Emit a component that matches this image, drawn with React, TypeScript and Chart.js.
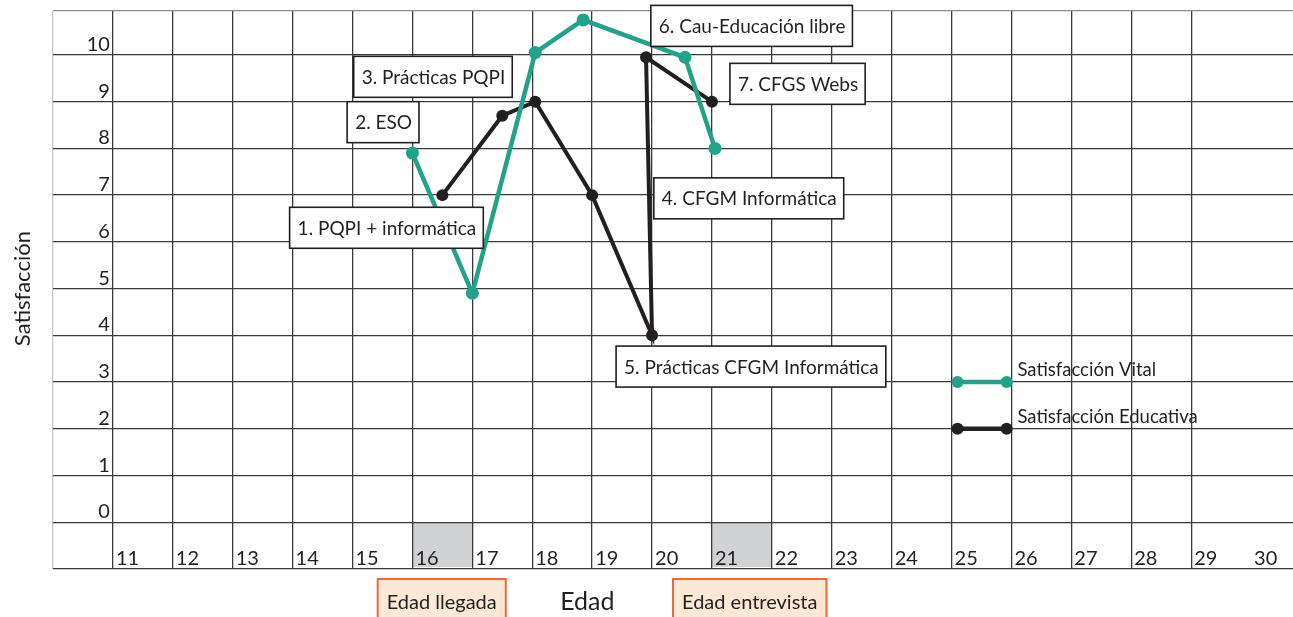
import React, { useEffect, useRef } from "react";
import { Chart, registerables } from "chart.js";

Chart.register(...registerables);

// ---- data ----
const xTickLabels = ["11", "12", "13", "14", "15", "16", "17", "18", "19", "20", "21", "22", "23", "24", "25", "26", "27", "28", "29", "30"];
const yTickLabels = ["0", "1", "2", "3", "4", "5", "6", "7", "8", "9", "10"];

const seriesNames = ["Satisfacción Vital", "Satisfacción Educativa"];

const vitalAges = [16, 17, 18.05, 18.85, 20.55, 21.05];
const vitalValues = [7.9, 4.9, 10.05, 10.75, 9.95, 8.0];

const eduAges = [16.5, 17.5, 18.05, 19, 20, 19.9, 21];
const eduValues = [7, 8.7, 9, 7, 4, 9.95, 9];

const eventLabels = [
  "1. PQPI + informática",
  "2. ESO",
  "3. Prácticas PQPI",
  "4. CFGM Informática",
  "5. Prácticas CFGM Informática",
  "6. Cau-Educación libre",
  "7. CFGS Webs",
];

const highlightAges = [16, 21];
const highlightLabels = ["Edad llegada", "Edad entrevista"];

const xTitle = "Edad";
const yTitle = "Satisfacción";

// ---- layout (positions in data units, kept apart from the data) ----
const eventBoxAnchors = [
  { x: 13.95, y: 6.74 },
  { x: 14.91, y: 9.0 },
  { x: 15.02, y: 9.97 },
  { x: 20.03, y: 7.37 },
  { x: 19.4, y: 3.77 },
  { x: 19.98, y: 11.06 },
  { x: 21.3, y: 9.82 },
];
const highlightBoxX = [15.42, 20.35];
const legendX = [25.1, 25.92];
const legendY = [3, 2];
const legendTextX = 26.1;

const GREEN = "#23a28a";
const BLACK = "#231f20";
const FONT = "Lato, 'Noto Sans', sans-serif";

const overlayPlugin = {
  id: "overlay",
  beforeDraw(chart: any) {
    const { ctx, scales } = chart;
    const x = scales.x;
    const y = scales.y;
    ctx.save();
    ctx.fillStyle = "#d1d2d4";
    highlightAges.forEach((a) => {
      const x0 = x.getPixelForValue(a);
      const x1 = x.getPixelForValue(a + 1);
      const y0 = y.getPixelForValue(0);
      const y1 = y.getPixelForValue(-1) - 2;
      ctx.fillRect(x0, y0, x1 - x0, y1 - y0);
    });
    ctx.restore();
  },
  afterDraw(chart: any) {
    const { ctx, scales, chartArea } = chart;
    const x = scales.x;
    const y = scales.y;
    ctx.save();
    ctx.fillStyle = BLACK;
    ctx.textBaseline = "alphabetic";

    // y tick labels
    ctx.font = `20px ${FONT}`;
    ctx.textAlign = "right";
    yTickLabels.forEach((t) => {
      const v = Number(t);
      ctx.fillText(t, x.getPixelForValue(11) - 3, y.getPixelForValue(v) - 4);
    });
    // x tick labels
    ctx.textAlign = "left";
    xTickLabels.forEach((t) => {
      const v = Number(t);
      ctx.fillText(t, x.getPixelForValue(v) + 3, y.getPixelForValue(-1) - 4);
    });

    // event boxes
    ctx.font = `19px ${FONT}`;
    eventLabels.forEach((label, i) => {
      const a = eventBoxAnchors[i];
      const bx = x.getPixelForValue(a.x);
      const by = y.getPixelForValue(a.y);
      const w = ctx.measureText(label).width + 15;
      const h = 41;
      ctx.fillStyle = "#ffffff";
      ctx.fillRect(bx, by, w, h);
      ctx.lineWidth = 1.6;
      ctx.strokeStyle = BLACK;
      ctx.strokeRect(bx, by, w, h);
      ctx.fillStyle = BLACK;
      ctx.textAlign = "left";
      ctx.textBaseline = "middle";
      ctx.fillText(label, bx + 8, by + h / 2 + 1);
    });

    // legend
    const legendColors = [GREEN, BLACK];
    seriesNames.forEach((name, i) => {
      const py = y.getPixelForValue(legendY[i]);
      const x0 = x.getPixelForValue(legendX[0]);
      const x1 = x.getPixelForValue(legendX[1]);
      ctx.strokeStyle = legendColors[i];
      ctx.lineWidth = 4.5;
      ctx.beginPath();
      ctx.moveTo(x0, py);
      ctx.lineTo(x1, py);
      ctx.stroke();
      ctx.fillStyle = legendColors[i];
      [x0, x1].forEach((px) => {
        ctx.beginPath();
        ctx.arc(px, py, 6, 0, Math.PI * 2);
        ctx.fill();
      });
      ctx.fillStyle = BLACK;
      ctx.font = `18.5px ${FONT}`;
      ctx.textAlign = "left";
      ctx.textBaseline = "alphabetic";
      ctx.fillText(name, x.getPixelForValue(legendTextX), py - 6);
    });

    // highlight boxes below axis
    ctx.font = `20px ${FONT}`;
    highlightLabels.forEach((label, i) => {
      const bx = x.getPixelForValue(highlightBoxX[i]);
      const by = chartArea.bottom + 10;
      const w = ctx.measureText(label).width + 18;
      const h = 50;
      ctx.fillStyle = "#fde8d3";
      ctx.fillRect(bx, by, w, h);
      ctx.strokeStyle = "#f0683c";
      ctx.lineWidth = 2;
      ctx.strokeRect(bx, by, w, h);
      ctx.fillStyle = BLACK;
      ctx.textAlign = "left";
      ctx.textBaseline = "alphabetic";
      ctx.fillText(label, bx + 9, by + 30);
    });

    // axis titles
    ctx.fillStyle = BLACK;
    ctx.font = `25px ${FONT}`;
    ctx.textAlign = "center";
    ctx.textBaseline = "alphabetic";
    ctx.fillText(xTitle, x.getPixelForValue(18.92), chartArea.bottom + 41);

    ctx.save();
    ctx.translate(30, y.getPixelForValue(5.0));
    ctx.rotate(-Math.PI / 2);
    ctx.font = `22px ${FONT}`;
    ctx.textAlign = "center";
    ctx.fillText(yTitle, 0, 0);
    ctx.restore();

    ctx.restore();
  },
};

export default function App() {
  const ref = useRef<HTMLCanvasElement | null>(null);
  useEffect(() => {
    if (!ref.current) return;
    const chart = new Chart(ref.current, {
      type: "line",
      data: {
        datasets: [
          {
            label: seriesNames[0],
            data: vitalAges.map((a, i) => ({ x: a, y: vitalValues[i] })),
            borderColor: GREEN,
            backgroundColor: GREEN,
            borderWidth: 4.5,
            pointRadius: 6.5,
            pointHoverRadius: 6.5,
            pointBorderWidth: 0,
            tension: 0,
          },
          {
            label: seriesNames[1],
            data: eduAges.map((a, i) => ({ x: a, y: eduValues[i] })),
            borderColor: BLACK,
            backgroundColor: BLACK,
            borderWidth: 4,
            pointRadius: 6,
            pointHoverRadius: 6,
            pointBorderWidth: 0,
            tension: 0,
          },
        ],
      },
      options: {
        animation: false,
        responsive: false,
        maintainAspectRatio: false,
        layout: { autoPadding: false, padding: { top: 11, bottom: 48, left: 53, right: 0 } },
        plugins: { legend: { display: false }, tooltip: { enabled: false } },
        scales: {
          x: {
            type: "linear",
            min: 10,
            max: 30.7,
            ticks: { display: false, stepSize: 1 },
            border: { display: false },
            grid: {
              drawTicks: false,
              lineWidth: 1.3,
              color: (c: any) => {
                const v = c.tick ? c.tick.value : 0;
                if (v === 10) return "#c8c8c8";
                if (v > 30.5) return "rgba(0,0,0,0)";
                return "#3a3a3a";
              },
            },
          },
          y: {
            type: "linear",
            min: -1,
            max: 10.94,
            ticks: { display: false, stepSize: 1 },
            border: { display: false },
            grid: {
              drawTicks: false,
              lineWidth: 1.3,
              color: (c: any) => {
                const v = c.tick ? c.tick.value : 0;
                if (v > 10.5) return "#8a8a8a";
                return "#3a3a3a";
              },
            },
          },
        },
      },
      plugins: [overlayPlugin],
    });
    return () => chart.destroy();
  }, []);
  return (
    <div style={{ position: "fixed", left: 0, top: 0, width: 1293, height: 617, background: "#fff" }}>
      <canvas ref={ref} width={1293} height={617} style={{ display: "block" }} />
    </div>
  );
}
